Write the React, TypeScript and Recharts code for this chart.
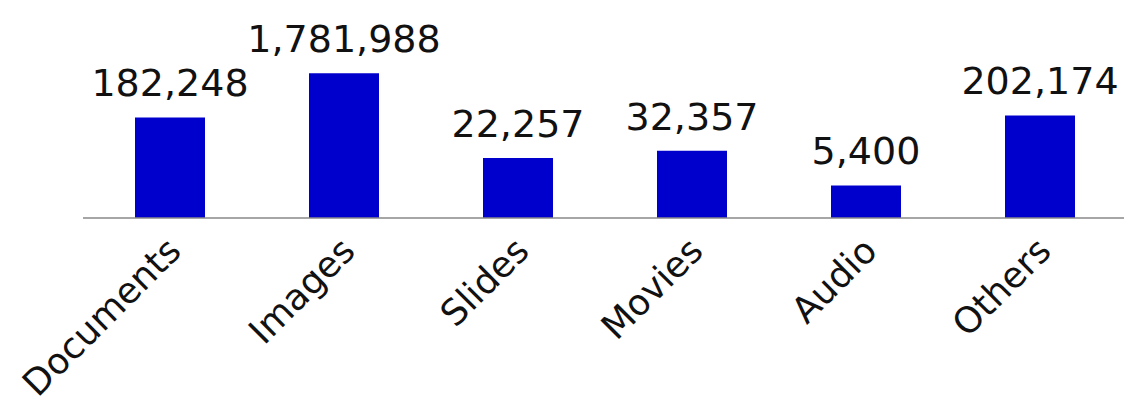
import { BarChart, Bar, XAxis, YAxis, LabelList } from 'recharts'

const categories = ['Documents', 'Images', 'Slides', 'Movies', 'Audio', 'Others']
const fileCounts = [182248, 1781988, 22257, 32357, 5400, 202174]

const data = categories.map((name, i) => ({ name, count: fileCounts[i] }))

const FONT = '"DejaVu Sans", Verdana, sans-serif'

const RotatedTick = ({ x, y, payload }: { x?: number; y?: number; payload?: { value: string } }) => {
  const tx = (x ?? 0) + 13
  const ty = (y ?? 0) + 27
  return (
    <text
      x={tx}
      y={ty}
      textAnchor="end"
      transform={`rotate(-45, ${tx}, ${ty})`}
      fontFamily={FONT}
      fontSize={36}
      fill="#111"
    >
      {payload?.value}
    </text>
  )
}

export default function App() {
  return (
    <BarChart
      width={1124}
      height={399}
      data={data}
      margin={{ top: 32, right: 5, left: 75, bottom: 0 }}
    >
      <XAxis
        dataKey="name"
        height={189}
        interval={0}
        tickLine={false}
        axisLine={{ stroke: '#888', strokeWidth: 1.5 }}
        tick={<RotatedTick />}
      />
      <YAxis hide scale="log" domain={[1000, 10000000]} allowDataOverflow />
      <Bar dataKey="count" fill="#0000CD" barSize={70} isAnimationActive={false}>
        <LabelList
          dataKey="count"
          position="top"
          offset={21}
          formatter={(v: number) => v.toLocaleString('en-US')}
          style={{ fontFamily: FONT, fontSize: 38, fill: '#111' }}
        />
      </Bar>
    </BarChart>
  )
}
